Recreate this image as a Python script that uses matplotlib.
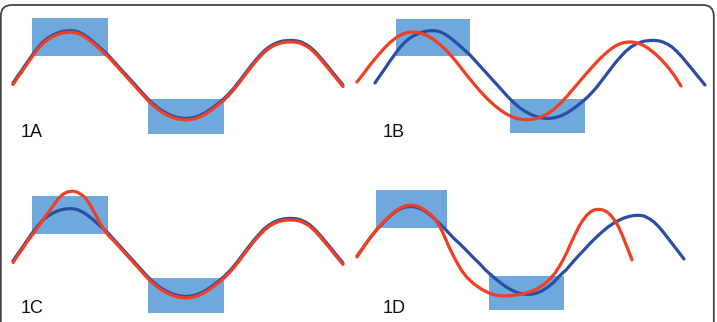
import matplotlib
matplotlib.use('Agg')
import matplotlib.pyplot as plt
import matplotlib.transforms as mtransforms
from matplotlib.patches import FancyBboxPatch

plt.rcParams['font.family'] = ['Liberation Sans', 'DejaVu Sans']

# curves, in panel-local pixel units (x right, y down)
base_x = [13, 18, 22, 27, 33, 38, 43, 48, 53, 58, 62, 66, 70, 74, 78, 83, 88, 93, 98, 103,
          108, 113, 118, 123, 128, 133, 138, 143, 148, 153, 158, 163, 168, 173, 178, 185, 190,
          195, 200, 206, 213, 218, 224, 229, 234, 239, 244, 249, 254, 259, 264, 269, 274, 279,
          283, 288, 292, 297, 301, 306, 310, 315, 320, 325, 330, 336, 343]
base_y = [83, 75.5, 70, 62.5, 54, 47.5, 42, 38, 35, 32.8, 31.6, 30.9, 30.6, 30.9, 31.8, 34.2,
          37.6, 41.6, 46, 50.5, 55, 60.5, 66, 71.5, 77, 82.5, 88, 93.6, 99, 103.8, 108, 111.3,
          114, 116.2, 117.6, 118.5, 118.2, 117.2, 115.4, 112.3, 107.5, 103.6, 98.6, 93.6, 88,
          81.6, 75, 68.4, 62, 56.3, 51, 47, 44, 42, 41, 40.5, 40.4, 40.9, 42, 44.4, 47, 51.6,
          57, 63, 69, 76.5, 85]

b_red_x = [-5, 2, 8, 15, 22, 28, 35, 40, 45, 50, 55, 60, 65, 71, 78, 85, 92, 98, 105, 112,
           118, 125, 132, 138, 144, 150, 156, 163, 170, 177, 184, 191, 198, 205, 212, 218, 225,
           232, 238, 245, 251, 256, 261, 266, 271, 276, 281, 286, 292, 298, 305, 312, 319]
b_red_y = [82, 73, 65, 56.5, 48.5, 42.5, 37, 34.3, 32.6, 32, 32.4, 33.6, 35.5, 39, 44.5, 51, 59,
           66.5, 75.5, 84, 91, 98.5, 105, 109.8, 113.8, 116.8, 118.8, 119.8, 119.5, 117.8, 114.7,
           110, 103.8, 96.2, 88, 81, 72.8, 65, 58.6, 52.2, 47.5, 44.6, 42.8, 42, 42.1, 43.2,
           45.2, 48.2, 52.8, 58.3, 66, 75, 86]

c_red_x = [13, 18, 22, 27, 33, 38, 43, 48, 53, 58, 62, 65, 68, 71, 73, 76, 79, 82, 85, 88, 92,
           96, 100, 104, 108, 113, 118, 123, 128, 133, 138, 143, 148, 153, 158, 163, 168, 173,
           178, 185, 190, 195, 200, 206, 213, 218, 224, 229, 234, 239, 244, 249, 254, 259, 264,
           269, 274, 279, 283, 288, 292, 297, 301, 306, 310, 315, 320, 325, 330, 336, 343]
c_red_y = [83, 75.5, 70, 62.5, 54.5, 47.5, 40.5, 33.5, 26.5, 19.5, 15.5, 13.5, 12.3, 11.8, 11.7,
           12.3, 13.6, 15.5, 18, 22, 28.5, 36, 43.5, 50, 55.5, 60.5, 66, 71.5, 77, 82.5, 88,
           93.6, 99, 103.8, 108, 111.3, 114, 116.2, 117.6, 118.5, 118.2, 117.2, 115.4, 112.3,
           107.5, 103.6, 98.6, 93.6, 88, 81.6, 75, 68.4, 62, 56.3, 51, 47, 44, 42, 41, 40.5,
           40.4, 40.9, 42, 44.4, 47, 51.6, 57, 63, 69, 76.5, 85]

d_blue_x = [-5, 3, 8, 15, 22, 28, 35, 40, 45, 50, 54, 58, 62, 67, 72, 78, 85, 92, 98, 105,
            112, 118, 123, 128, 135, 140, 145, 150, 155, 160, 165, 170, 175, 180, 186, 192,
            198, 204, 210, 216, 222, 228, 234, 240, 246, 252, 257, 262, 267, 272, 277, 282,
            287, 292, 297, 302, 307, 312, 317, 322]
d_blue_y = [78, 67, 60, 51.5, 44, 38, 32.5, 30, 28.8, 28.6, 29.2, 30.5, 32.5, 36, 40.3, 46, 53,
            60.5, 66, 73, 80.3, 86, 91.5, 96, 102, 106, 109.5, 112.3, 114.5, 115.8, 116.4,
            116.2, 115, 112.8, 109, 104, 97.5, 92, 85, 78.3, 72, 65.5, 59.5, 54, 49, 45, 42.2,
            40, 38.4, 37.5, 37.3, 38, 40.5, 44, 49, 55, 61.5, 68, 74.5, 81]

d_red_x = [-5, 3, 8, 15, 22, 28, 35, 40, 44, 48, 52, 56, 60, 64, 68, 72, 76, 80, 84, 88, 92,
           96, 100, 105, 112, 120, 128, 135, 142, 150, 158, 166, 175, 182, 188, 193, 197, 201,
           205, 209, 213, 217, 221, 225, 229, 233, 237, 241, 245, 249, 252, 255, 258, 261, 264,
           267, 270]
d_red_y = [79, 67, 60, 51, 43.5, 37.5, 32, 29.2, 27.8, 27.1, 27.3, 28.5, 30.5, 33, 36, 40, 45.5,
           53, 62, 71, 79, 86.5, 93, 99.5, 106, 111.5, 115.5, 117.5, 118, 117.6, 116.5, 114.5,
           111, 106.5, 101, 95, 89, 82, 74, 65, 56.5, 48.5, 42, 37, 33.5, 31.7, 31.3, 32, 34,
           37.5, 41.5, 46, 52, 59, 66.5, 74, 82]

# highlighted windows: (x0, x1, top, bottom)
windows = {
    '1A': [(32, 108, 18, 56), (148, 224, 99, 134)],
    '1B': [(34, 108, 19, 56), (148, 223, 99, 133)],
    '1C': [(32, 108, 18, 56), (148, 224, 100, 135)],
    '1D': [(14, 85, 12, 50), (127, 202, 98, 132)],
}
blue_curves = {'1A': (base_x, base_y), '1B': (base_x, base_y),
               '1C': (base_x, base_y), '1D': (d_blue_x, d_blue_y)}
red_curves = {'1A': (base_x, base_y), '1B': (b_red_x, b_red_y),
              '1C': (c_red_x, c_red_y), '1D': (d_red_x, d_red_y)}

W, H = 717, 322
fig = plt.figure(figsize=(W / 100, H / 100), dpi=100)
fig.patch.set_facecolor('white')

# outer rounded frame
frame = fig.add_axes([0, 0, 1, 1])
frame.set_xlim(0, W)
frame.set_ylim(H, 0)
frame.axis('off')
frame.add_patch(FancyBboxPatch((0.8, 5), 713, 340, boxstyle='round,pad=0,rounding_size=11',
                               ec='#444444', fc='none', lw=1.3))

panel_pos = {'1A': (0, 0), '1B': (362, 0), '1C': (0, 178), '1D': (362, 178)}
label_base = {'1A': 137, '1B': 137, '1C': 135, '1D': 135}
pw, ph = 354, 144

for name, (px, py) in panel_pos.items():
    ax = fig.add_axes([px / W, 1 - (py + ph) / H, pw / W, ph / H])
    ax.set_xlim(0, pw)
    ax.set_ylim(ph, 0)
    ax.axis('off')
    for x0, x1, y0, y1 in windows[name]:
        ax.bar(x0, y1 - y0, width=x1 - x0, bottom=y0, align='edge',
               color='#6fa8dc', zorder=1)
    bx, by = blue_curves[name]
    ax.plot(bx, by, color='#2a4ea6', lw=2.3, solid_capstyle='round',
            solid_joinstyle='round', zorder=2, clip_on=False)
    rx, ry = red_curves[name]
    tr = ax.transData
    if name in ('1A', '1C'):
        tr = mtransforms.offset_copy(ax.transData, fig=fig, x=0, y=-1.5, units='dots')
    ax.plot(rx, ry, color='#f04023', lw=2.3, solid_capstyle='round',
            solid_joinstyle='round', zorder=3, clip_on=False, transform=tr)
    ax.text(21, label_base[name], name, fontsize=13, va='baseline', ha='left', color='#111111')

fig.savefig('out.png', dpi=100, facecolor='white')
